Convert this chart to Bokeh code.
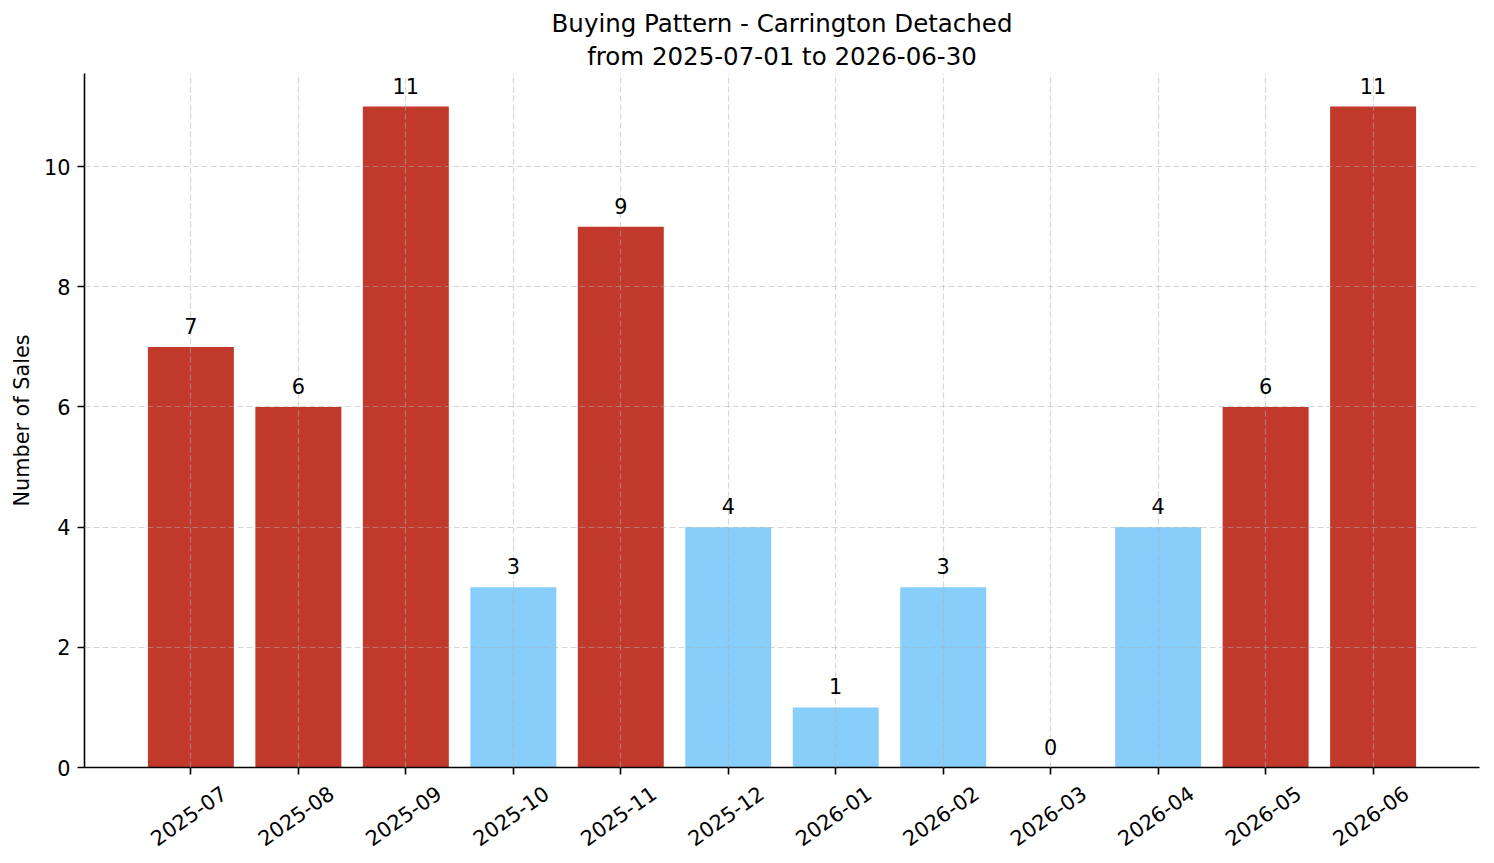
import math
from bokeh.plotting import figure
from bokeh.models import (ColumnDataSource, LabelSet, FixedTicker, Range1d,
                          LinearAxis, Title)
from bokeh.core.properties import value
from bokeh.embed import file_html
from bokeh.resources import INLINE

# Monthly sales counts
months = ["2025-07", "2025-08", "2025-09", "2025-10", "2025-11", "2025-12",
          "2026-01", "2026-02", "2026-03", "2026-04", "2026-05", "2026-06"]
sales = [7, 6, 11, 3, 9, 4, 1, 3, 0, 4, 6, 11]
y_ticks = [0, 2, 4, 6, 8, 10]

title_line1 = "Buying Pattern - Carrington Detached"
title_line2 = "from 2025-07-01 to 2026-06-30"

HIGH = "#c0392b"
LOW = "#87cefa"
FONT = "DejaVu Sans"

avg = sum(sales) / len(sales)
colors = [HIGH if s >= avg else LOW for s in sales]
idx = list(range(len(months)))

src = ColumnDataSource(dict(
    x=idx, top=sales, color=colors,
    label=[str(s) for s in sales], month=months,
))

n = len(months)
pad_x = 0.05 * ((n - 1 + 0.4) - (-0.4))
y_top = max(sales) * 1.05

p = figure(width=1494, height=863, output_backend="svg", toolbar_location=None,
           title=None,
           x_range=Range1d(-0.4 - pad_x, n - 1 + 0.4 + pad_x),
           y_range=Range1d(0, y_top),
           min_border_left=84, min_border_right=15,
           min_border_top=73, min_border_bottom=96)
p.outline_line_color = None
p.background_fill_color = "white"

# two centred title lines; the first one added sits next to the plot
for text, standoff, lh in ((title_line2, 5, 1.0), (title_line1, 0, 0.8)):
    p.add_layout(Title(text=text, align="center", text_font=FONT,
                       text_font_size="24.5px", text_font_style="normal",
                       text_line_height=lh,
                       text_color="black", standoff=standoff), "above")

p.vbar(x="x", top="top", bottom=0, width=0.8, color="color", line_color=None, source=src)

# grid drawn above the bars
p.grid.level = "guide"
p.grid.grid_line_color = "#b0b0b0"
p.grid.grid_line_alpha = 0.5
p.grid.grid_line_width = 1.2
p.grid.grid_line_dash = "6 3"

# axes
for ax in (p.xaxis, p.yaxis):
    ax.axis_line_color = "black"
    ax.axis_line_width = 1.6
    ax.major_tick_line_color = "black"
    ax.major_tick_line_width = 1.6
    ax.major_tick_out = 7
    ax.major_tick_in = 0
    ax.minor_tick_line_color = None
    ax.major_label_text_font = FONT
    ax.major_label_text_font_size = "20.8px"
    ax.major_label_text_color = "black"

# x axis: tick marks only
p.xaxis.ticker = FixedTicker(ticks=idx)
p.xaxis.major_label_overrides = {i: "" for i in idx}
p.xaxis.major_label_text_font_size = "0px"
p.xaxis.major_label_standoff = 0

# rotated month names, each centred under its tick
shift = 0.307
label_ticks = [i + shift for i in idx]
month_axis = LinearAxis(ticker=FixedTicker(ticks=label_ticks),
                        major_label_overrides={t: m for t, m in zip(label_ticks, months)},
                        major_label_orientation=math.radians(35),
                        major_label_standoff=10,
                        major_label_text_font=FONT,
                        major_label_text_font_size="20.8px",
                        major_label_text_color="black",
                        axis_line_color=None,
                        major_tick_line_color=None,
                        minor_tick_line_color=None)
p.add_layout(month_axis, "below")

p.yaxis.ticker = FixedTicker(ticks=y_ticks)
p.yaxis.major_label_standoff = 7
p.yaxis.axis_label = "Number of Sales"
p.yaxis.axis_label_text_font = FONT
p.yaxis.axis_label_text_font_size = "20.8px"
p.yaxis.axis_label_text_font_style = "normal"
p.yaxis.axis_label_text_color = "black"
p.yaxis.axis_label_standoff = 7

# value labels above bars
p.add_layout(LabelSet(x="x", y="top", text="label", source=src,
                      text_align="center", text_baseline="alphabetic",
                      y_offset=13,
                      text_font=value(FONT), text_font_size="20.8px", text_color="black"))

open("out.html", "w").write(file_html(p, INLINE))
